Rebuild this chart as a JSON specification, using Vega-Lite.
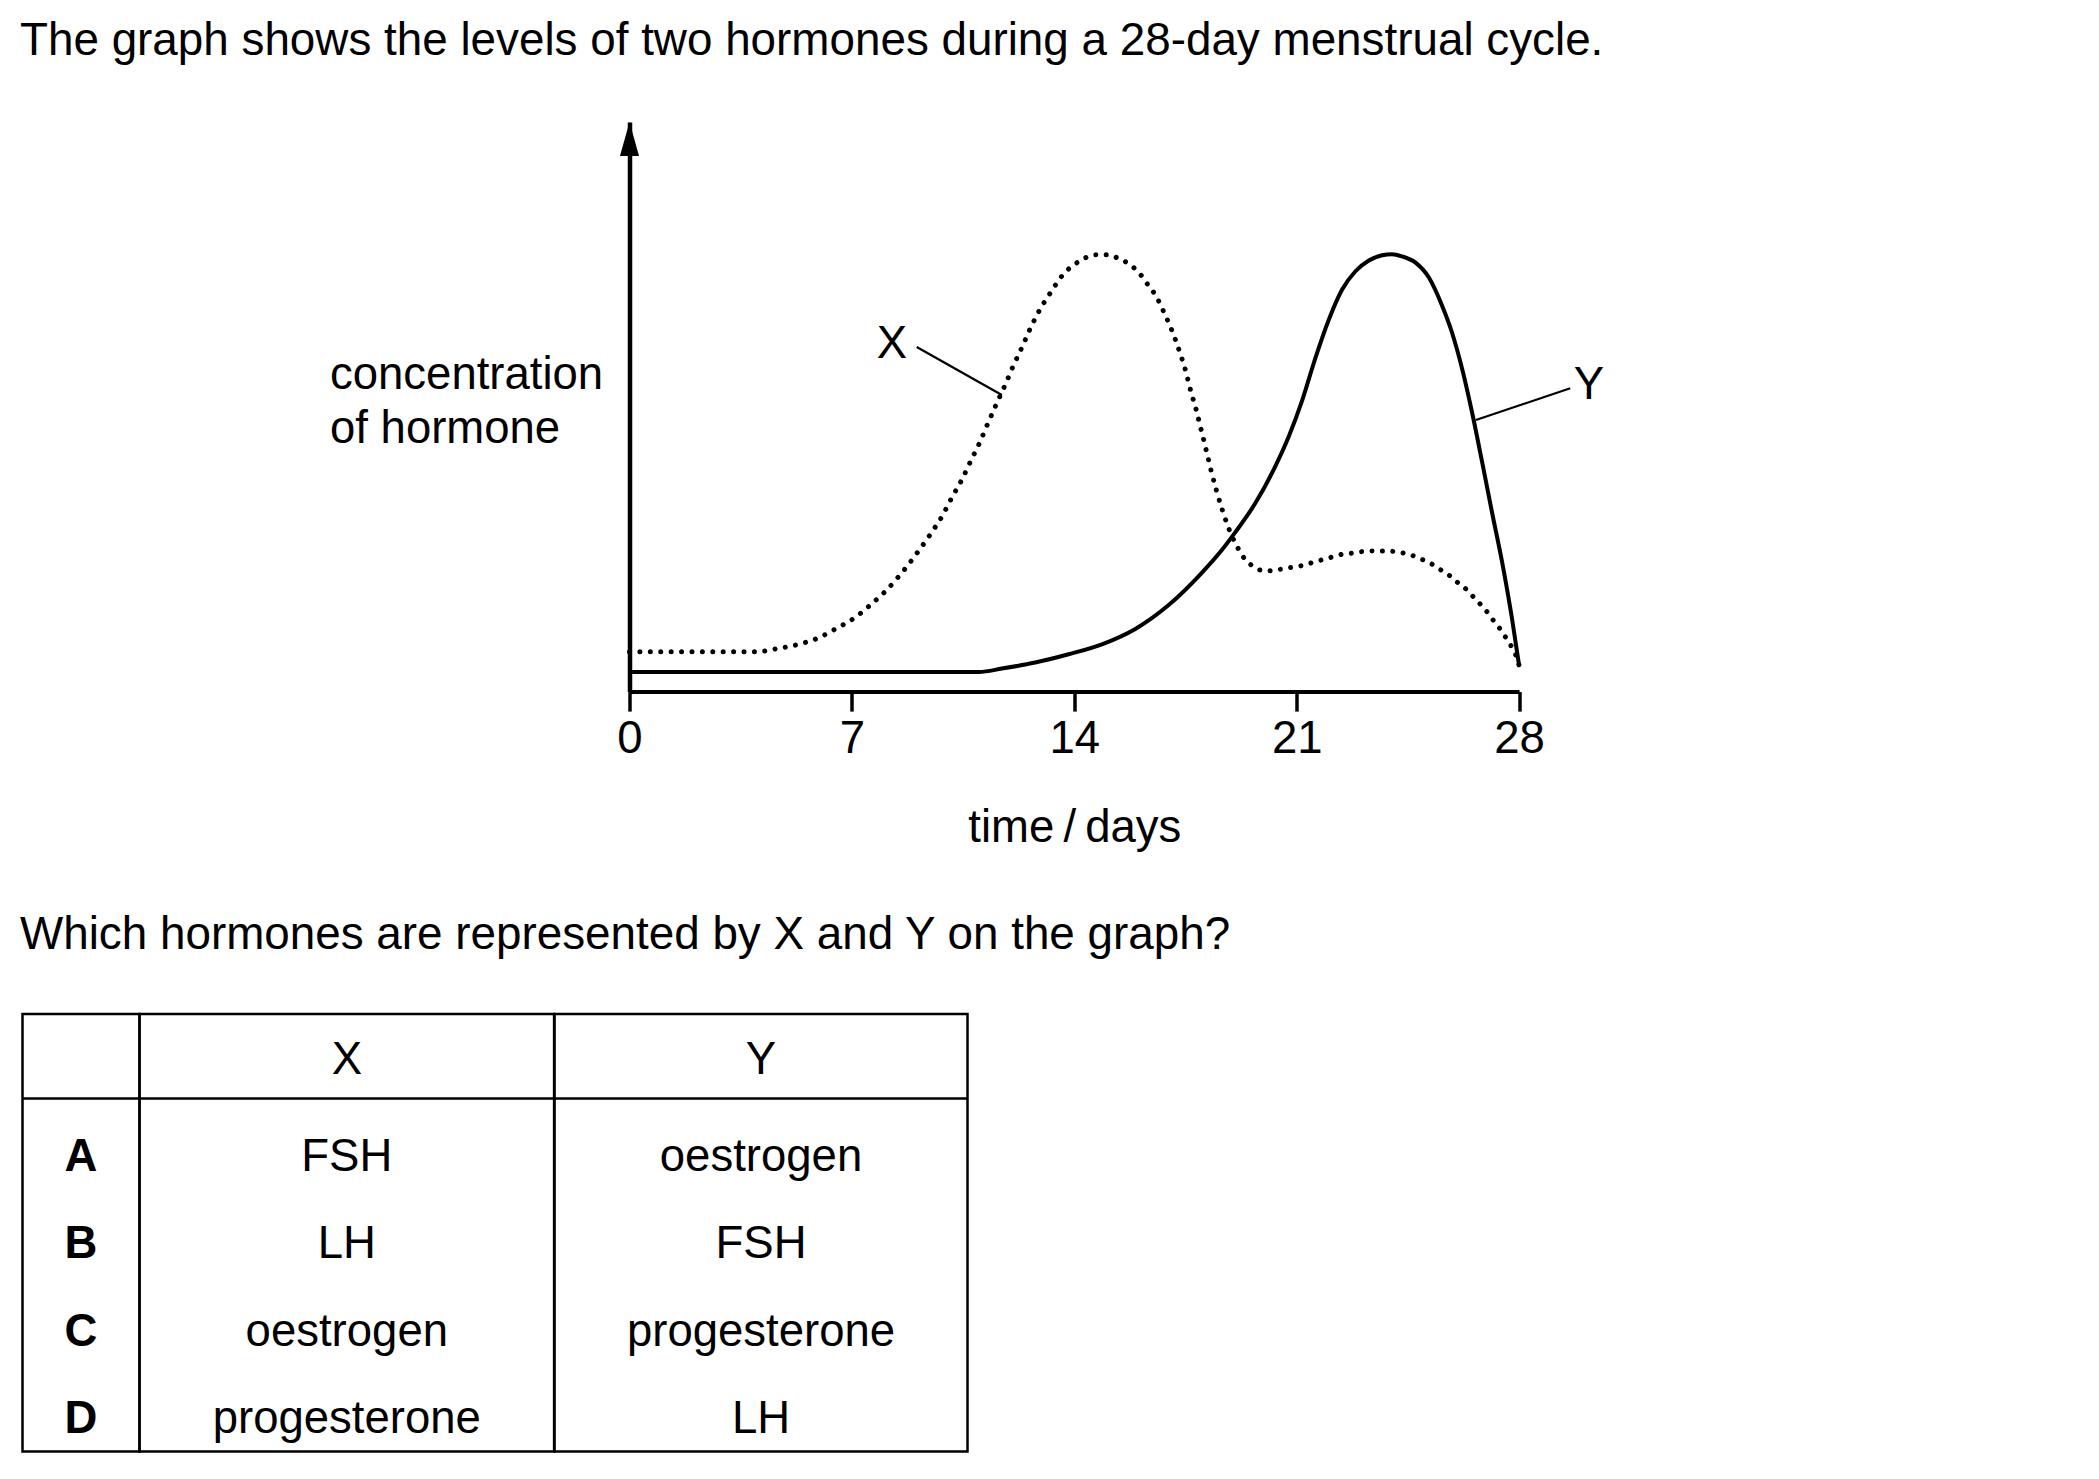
{
  "$schema": "https://vega.github.io/schema/vega-lite/v6.json",
  "background": "white",
  "padding": {"left": 19.5, "top": 18, "right": 30, "bottom": 20},
  "config": {
    "font": "Liberation Sans",
    "view": {"stroke": null},
    "text": {"color": "black"}
  },
  "datasets": {
    "curves": [
      {"hormone": "X", "day": 0, "level": 7.0},
      {"hormone": "X", "day": 4.0, "level": 7.0},
      {"hormone": "X", "day": 4.66, "level": 7.55},
      {"hormone": "X", "day": 5.32, "level": 8.3},
      {"hormone": "X", "day": 5.92, "level": 9.36},
      {"hormone": "X", "day": 6.5, "level": 11.05},
      {"hormone": "X", "day": 7.07, "level": 12.9},
      {"hormone": "X", "day": 7.58, "level": 15.2},
      {"hormone": "X", "day": 8.05, "level": 17.6},
      {"hormone": "X", "day": 8.49, "level": 20.3},
      {"hormone": "X", "day": 9.1, "level": 24.7},
      {"hormone": "X", "day": 9.48, "level": 27.7},
      {"hormone": "X", "day": 9.83, "level": 30.7},
      {"hormone": "X", "day": 10.15, "level": 34.1},
      {"hormone": "X", "day": 10.46, "level": 37.2},
      {"hormone": "X", "day": 10.74, "level": 40.5},
      {"hormone": "X", "day": 11.02, "level": 43.7},
      {"hormone": "X", "day": 11.28, "level": 47.1},
      {"hormone": "X", "day": 11.54, "level": 50.4},
      {"hormone": "X", "day": 11.82, "level": 53.8},
      {"hormone": "X", "day": 12.08, "level": 57.2},
      {"hormone": "X", "day": 12.35, "level": 60.4},
      {"hormone": "X", "day": 12.61, "level": 63.7},
      {"hormone": "X", "day": 12.91, "level": 67.0},
      {"hormone": "X", "day": 13.27, "level": 70.2},
      {"hormone": "X", "day": 13.63, "level": 73.1},
      {"hormone": "X", "day": 14.14, "level": 75.5},
      {"hormone": "X", "day": 14.71, "level": 76.7},
      {"hormone": "X", "day": 15.06, "level": 76.7},
      {"hormone": "X", "day": 15.37, "level": 76.1},
      {"hormone": "X", "day": 15.66, "level": 75.3},
      {"hormone": "X", "day": 15.9, "level": 74.3},
      {"hormone": "X", "day": 16.13, "level": 72.9},
      {"hormone": "X", "day": 16.32, "level": 71.4},
      {"hormone": "X", "day": 16.52, "level": 69.9},
      {"hormone": "X", "day": 16.68, "level": 68.3},
      {"hormone": "X", "day": 16.82, "level": 66.6},
      {"hormone": "X", "day": 16.95, "level": 65.0},
      {"hormone": "X", "day": 17.08, "level": 63.3},
      {"hormone": "X", "day": 17.3, "level": 59.9},
      {"hormone": "X", "day": 17.5, "level": 56.4},
      {"hormone": "X", "day": 17.66, "level": 52.9},
      {"hormone": "X", "day": 17.84, "level": 49.4},
      {"hormone": "X", "day": 18.0, "level": 45.8},
      {"hormone": "X", "day": 18.16, "level": 42.2},
      {"hormone": "X", "day": 18.31, "level": 38.7},
      {"hormone": "X", "day": 18.48, "level": 35.2},
      {"hormone": "X", "day": 18.67, "level": 31.7},
      {"hormone": "X", "day": 18.9, "level": 28.1},
      {"hormone": "X", "day": 19.18, "level": 24.9},
      {"hormone": "X", "day": 19.35, "level": 23.4},
      {"hormone": "X", "day": 19.6, "level": 22.1},
      {"hormone": "X", "day": 19.89, "level": 21.3},
      {"hormone": "X", "day": 20.2, "level": 21.2},
      {"hormone": "X", "day": 20.52, "level": 21.5},
      {"hormone": "X", "day": 20.83, "level": 21.8},
      {"hormone": "X", "day": 21.15, "level": 22.1},
      {"hormone": "X", "day": 21.46, "level": 22.6},
      {"hormone": "X", "day": 21.78, "level": 23.1},
      {"hormone": "X", "day": 22.1, "level": 23.6},
      {"hormone": "X", "day": 22.43, "level": 24.1},
      {"hormone": "X", "day": 22.75, "level": 24.3},
      {"hormone": "X", "day": 23.08, "level": 24.6},
      {"hormone": "X", "day": 23.4, "level": 24.7},
      {"hormone": "X", "day": 23.72, "level": 24.7},
      {"hormone": "X", "day": 24.06, "level": 24.6},
      {"hormone": "X", "day": 24.38, "level": 24.3},
      {"hormone": "X", "day": 24.69, "level": 23.8},
      {"hormone": "X", "day": 24.99, "level": 23.1},
      {"hormone": "X", "day": 25.28, "level": 22.3},
      {"hormone": "X", "day": 25.55, "level": 21.3},
      {"hormone": "X", "day": 25.83, "level": 20.3},
      {"hormone": "X", "day": 26.08, "level": 19.1},
      {"hormone": "X", "day": 26.33, "level": 18.0},
      {"hormone": "X", "day": 26.55, "level": 16.7},
      {"hormone": "X", "day": 26.77, "level": 15.4},
      {"hormone": "X", "day": 26.99, "level": 14.0},
      {"hormone": "X", "day": 27.19, "level": 12.5},
      {"hormone": "X", "day": 27.39, "level": 11.1},
      {"hormone": "X", "day": 27.57, "level": 9.6},
      {"hormone": "X", "day": 27.74, "level": 8.1},
      {"hormone": "X", "day": 27.89, "level": 6.5},
      {"hormone": "X", "day": 28.0, "level": 4.6},
      {"hormone": "Y", "day": 0, "level": 3.44},
      {"hormone": "Y", "day": 11.0, "level": 3.44},
      {"hormone": "Y", "day": 11.72, "level": 4.04},
      {"hormone": "Y", "day": 12.77, "level": 5.1},
      {"hormone": "Y", "day": 13.82, "level": 6.55},
      {"hormone": "Y", "day": 14.87, "level": 8.3},
      {"hormone": "Y", "day": 15.92, "level": 11.0},
      {"hormone": "Y", "day": 16.97, "level": 15.2},
      {"hormone": "Y", "day": 18.02, "level": 20.9},
      {"hormone": "Y", "day": 18.65, "level": 24.9},
      {"hormone": "Y", "day": 19.07, "level": 28.0},
      {"hormone": "Y", "day": 19.7, "level": 33.1},
      {"hormone": "Y", "day": 20.33, "level": 39.6},
      {"hormone": "Y", "day": 20.75, "level": 44.8},
      {"hormone": "Y", "day": 21.17, "level": 51.1},
      {"hormone": "Y", "day": 21.59, "level": 58.6},
      {"hormone": "Y", "day": 22.01, "level": 65.3},
      {"hormone": "Y", "day": 22.43, "level": 70.6},
      {"hormone": "Y", "day": 22.85, "level": 73.8},
      {"hormone": "Y", "day": 23.27, "level": 75.7},
      {"hormone": "Y", "day": 23.69, "level": 76.6},
      {"hormone": "Y", "day": 24.0, "level": 76.8},
      {"hormone": "Y", "day": 24.32, "level": 76.4},
      {"hormone": "Y", "day": 24.74, "level": 75.3},
      {"hormone": "Y", "day": 25.16, "level": 72.7},
      {"hormone": "Y", "day": 25.58, "level": 67.7},
      {"hormone": "Y", "day": 25.89, "level": 63.0},
      {"hormone": "Y", "day": 26.21, "level": 56.6},
      {"hormone": "Y", "day": 26.52, "level": 49.0},
      {"hormone": "Y", "day": 26.84, "level": 40.2},
      {"hormone": "Y", "day": 27.15, "level": 31.4},
      {"hormone": "Y", "day": 27.47, "level": 22.6},
      {"hormone": "Y", "day": 27.78, "level": 12.7},
      {"hormone": "Y", "day": 28.0, "level": 4.6}
    ],
    "labels": [
      {"name": "X", "day": 8.26, "level": 61.1, "day2": 9.04, "level2": 60.5, "day3": 11.72, "level3": 52.07},
      {"name": "Y", "day": 30.2, "level": 53.8, "day2": 29.61, "level2": 53.25, "day3": 26.64, "level3": 47.68}
    ],
    "table": [
      {"row": "hdr", "col": "X", "text": "X"},
      {"row": "hdr", "col": "Y", "text": "Y"},
      {"row": "A", "col": "opt", "text": "A"},
      {"row": "A", "col": "X", "text": "FSH"},
      {"row": "A", "col": "Y", "text": "oestrogen"},
      {"row": "B", "col": "opt", "text": "B"},
      {"row": "B", "col": "X", "text": "LH"},
      {"row": "B", "col": "Y", "text": "FSH"},
      {"row": "C", "col": "opt", "text": "C"},
      {"row": "C", "col": "X", "text": "oestrogen"},
      {"row": "C", "col": "Y", "text": "progesterone"},
      {"row": "D", "col": "opt", "text": "D"},
      {"row": "D", "col": "X", "text": "progesterone"},
      {"row": "D", "col": "Y", "text": "LH"}
    ]
  },
  "title": {
    "text": "The graph shows the levels of two hormones during a 28-day menstrual cycle.",
    "anchor": "start",
    "frame": "bounds",
    "fontSize": 45.8,
    "fontWeight": "normal",
    "color": "black",
    "baseline": "alphabetic",
    "offset": 21
  },
  "bounds": "flush",
  "spacing": 322,
  "vconcat": [
    {
      "width": 1496.6,
      "height": 569.6,
      "layer": [
        {
          "data": {"name": "curves"},
          "transform": [{"filter": "datum.hormone === 'X'"}],
          "mark": {"type": "line", "interpolate": "monotone", "color": "black", "strokeWidth": 5, "strokeDash": [0.01, 10.4], "strokeCap": "round"},
          "encoding": {
            "x": {
              "field": "day", "type": "quantitative",
              "scale": {"domain": [0, 28], "range": [607, 1496.6], "nice": false, "zero": false},
              "axis": {
                "values": [0, 7, 14, 21, 28], "labelFlush": false, "labelOverlap": false, "grid": false,
                "domainColor": "black", "domainWidth": 4, "tickColor": "black", "tickWidth": 3.5, "tickSize": 19.5,
                "labelFontSize": 45.5, "labelColor": "black", "labelPadding": 5.5,
                "title": "time\u2009/\u2009days", "titleFontSize": 45.5, "titleFontWeight": "normal", "titleColor": "black",
                "titleBaseline": "alphabetic", "titleY": 149.4
              }
            },
            "y": {
              "field": "level", "type": "quantitative",
              "scale": {"domain": [0, 100], "nice": false},
              "axis": {
                "orient": "left", "offset": -607, "ticks": false, "labels": false, "grid": false,
                "domainColor": "black", "domainWidth": 4.5,
                "title": ["concentration", "of hormone"], "titleAngle": 0, "titleAlign": "left", "titleBaseline": "alphabetic",
                "titleX": -300, "titleY": 266, "titleLineHeight": 54,
                "titleFontSize": 45.5, "titleFontWeight": "normal", "titleColor": "black"
              }
            }
          }
        },
        {
          "data": {"name": "curves"},
          "transform": [{"filter": "datum.hormone === 'Y'"}],
          "mark": {"type": "line", "interpolate": "monotone", "color": "black", "strokeWidth": 4},
          "encoding": {
            "x": {"field": "day", "type": "quantitative"},
            "y": {"field": "level", "type": "quantitative"}
          }
        },
        {
          "data": {"values": [{}]},
          "mark": {"type": "point", "shape": "M0,0L0.56,2L-0.56,2Z", "filled": true, "color": "black", "opacity": 1, "size": 1156},
          "encoding": {
            "x": {"datum": 0, "type": "quantitative"},
            "y": {"datum": 100, "type": "quantitative"}
          }
        },
        {
          "data": {"name": "labels"},
          "mark": {"type": "rule", "color": "black", "strokeWidth": 2.2},
          "encoding": {
            "x": {"field": "day2", "type": "quantitative"},
            "y": {"field": "level2", "type": "quantitative"},
            "x2": {"field": "day3"},
            "y2": {"field": "level3"}
          }
        },
        {
          "data": {"name": "labels"},
          "mark": {"type": "text", "fontSize": 45.5, "align": "center", "baseline": "middle", "color": "black"},
          "encoding": {
            "x": {"field": "day", "type": "quantitative"},
            "y": {"field": "level", "type": "quantitative"},
            "text": {"field": "name"}
          }
        }
      ]
    },
    {
      "title": {
        "text": "Which hormones are represented by X and Y on the graph?",
        "anchor": "start",
        "frame": "bounds",
        "fontSize": 45.8,
        "fontWeight": "normal",
        "color": "black",
        "baseline": "alphabetic",
        "offset": 18
      },
      "bounds": "flush",
      "spacing": 0,
      "hconcat": [
        {
          "width": 117,
          "height": 437.4,
          "view": {"stroke": "black", "strokeWidth": 2.5},
          "layer": [
            {
              "data": {"name": "table"},
              "transform": [{"filter": "datum.col === 'opt' && datum.row !== 'hdr'"}],
              "mark": {"type": "text", "fontSize": 45.5, "fontWeight": "bold", "dy": 11.5, "color": "black"},
              "encoding": {
                "y": {"field": "row", "type": "nominal", "scale": {"domain": ["hdr", "A", "B", "C", "D"], "paddingInner": 0, "paddingOuter": 0}, "axis": null},
                "text": {"field": "text"}
              }
            },
            {
              "data": {"values": [{}]},
              "mark": {"type": "rule", "color": "black", "strokeWidth": 2.5, "yOffset": -3},
              "encoding": {"y": {"datum": "A", "type": "nominal", "bandPosition": 0}}
            }
          ]
        },
        {
          "width": 414.6,
          "height": 437.4,
          "view": {"stroke": "black", "strokeWidth": 2.5},
          "layer": [
            {
              "data": {"name": "table"},
              "transform": [{"filter": "datum.col === 'X' && datum.row === 'hdr'"}],
              "mark": {"type": "text", "fontSize": 45.5, "dy": 2.4, "color": "black"},
              "encoding": {
                "y": {"field": "row", "type": "nominal", "scale": {"domain": ["hdr", "A", "B", "C", "D"], "paddingInner": 0, "paddingOuter": 0}, "axis": null},
                "text": {"field": "text"}
              }
            },
            {
              "data": {"name": "table"},
              "transform": [{"filter": "datum.col === 'X' && datum.row !== 'hdr'"}],
              "mark": {"type": "text", "fontSize": 45.5, "dy": 11.5, "color": "black"},
              "encoding": {
                "y": {"field": "row", "type": "nominal"},
                "text": {"field": "text"}
              }
            },
            {
              "data": {"values": [{}]},
              "mark": {"type": "rule", "color": "black", "strokeWidth": 2.5, "yOffset": -3},
              "encoding": {"y": {"datum": "A", "type": "nominal", "bandPosition": 0}}
            }
          ]
        },
        {
          "width": 413,
          "height": 437.4,
          "view": {"stroke": "black", "strokeWidth": 2.5},
          "layer": [
            {
              "data": {"name": "table"},
              "transform": [{"filter": "datum.col === 'Y' && datum.row === 'hdr'"}],
              "mark": {"type": "text", "fontSize": 45.5, "dy": 2.4, "color": "black"},
              "encoding": {
                "y": {"field": "row", "type": "nominal", "scale": {"domain": ["hdr", "A", "B", "C", "D"], "paddingInner": 0, "paddingOuter": 0}, "axis": null},
                "text": {"field": "text"}
              }
            },
            {
              "data": {"name": "table"},
              "transform": [{"filter": "datum.col === 'Y' && datum.row !== 'hdr'"}],
              "mark": {"type": "text", "fontSize": 45.5, "dy": 11.5, "color": "black"},
              "encoding": {
                "y": {"field": "row", "type": "nominal"},
                "text": {"field": "text"}
              }
            },
            {
              "data": {"values": [{}]},
              "mark": {"type": "rule", "color": "black", "strokeWidth": 2.5, "yOffset": -3},
              "encoding": {"y": {"datum": "A", "type": "nominal", "bandPosition": 0}}
            }
          ]
        }
      ]
    }
  ]
}
